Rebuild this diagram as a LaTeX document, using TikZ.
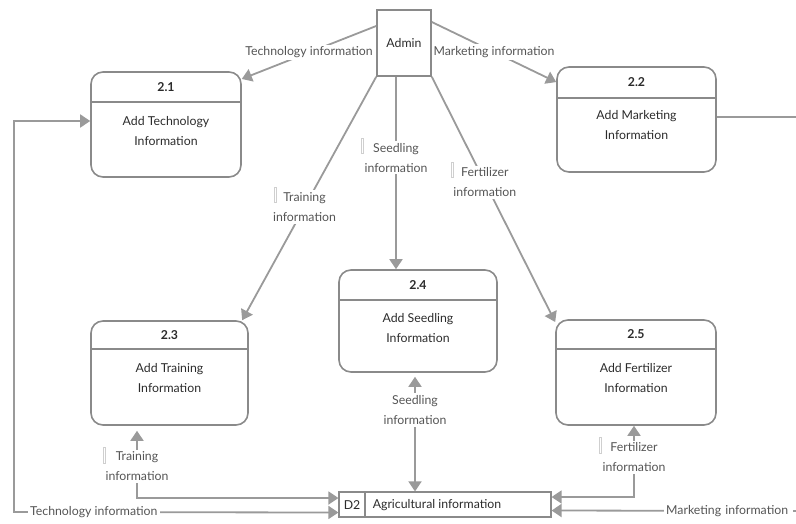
\documentclass[tikz,border=0pt]{standalone}
\usepackage{fontspec}
\setmainfont{Lato}
\usetikzlibrary{arrows.meta}
\definecolor{linec}{HTML}{9A9A9A}
\definecolor{boxc}{HTML}{8A8A8A}
\definecolor{txtc}{HTML}{2B2B2B}
\definecolor{lblc}{HTML}{555555}
\definecolor{barc}{HTML}{CFCFCF}
\begin{document}
\begin{tikzpicture}[x=1pt,y=-1pt,
  font=\fontsize{12.3}{20}\selectfont,
  proc/.style={draw=boxc, line width=1.6pt, rounded corners=12pt, inner sep=0},
  ent/.style={draw=boxc, line width=1.6pt, inner sep=0, minimum width=54pt, minimum height=66pt, text=txtc},
  ptitle/.style={text=txtc, font=\fontsize{12.3}{14}\selectfont\bfseries},
  pbody/.style={text=txtc, align=center},
  lbl/.style={fill=white, text=lblc, align=center, inner sep=2pt},
  flow/.style={draw=linec, line width=1.8pt, -{Triangle[length=10pt,width=13pt]}},
  biflow/.style={draw=linec, line width=1.8pt, {Triangle[length=10pt,width=13pt]}-{Triangle[length=10pt,width=13pt]}},
  plain/.style={draw=linec, line width=1.8pt},
  caret/.style={draw=barc, line width=0.6pt},
  hdr/.style={draw=boxc, line width=1.6pt}
]
\useasboundingbox (0,0) rectangle (796,523);

% entity
\node[ent] (admin) at (404,43) {Admin};

% processes
\node[proc, minimum width=150pt, minimum height=105pt] (p21) at (166,124.5) {};
\draw[hdr] (91,102) -- (241,102);
\node[ptitle] (t21) at (166,87) {2.1};
\node[pbody] (b21) at (166,131) {Add Technology\\Information};

\node[proc, minimum width=159pt, minimum height=105pt] (p22) at (636.5,119.5) {};
\draw[hdr] (557,98) -- (716,98);
\node[ptitle] (t22) at (636.5,82) {2.2};
\node[pbody] (b22) at (636.5,125.5) {Add Marketing\\Information};

\node[proc, minimum width=157pt, minimum height=104pt] (p23) at (169.5,373) {};
\draw[hdr] (91,349) -- (248,349);
\node[ptitle] (t23) at (169.5,335) {2.3};
\node[pbody] (b23) at (169.5,378) {Add Training\\Information};

\node[proc, minimum width=158pt, minimum height=102pt] (p24) at (418,321) {};
\draw[hdr] (339,300) -- (497,300);
\node[ptitle] (t24) at (418,285) {2.4};
\node[pbody] (b24) at (418,328.5) {Add Seedling\\Information};

\node[proc, minimum width=160pt, minimum height=105pt] (p25) at (636,372.5) {};
\draw[hdr] (556,349) -- (716,349);
\node[ptitle] (t25) at (636,334) {2.5};
\node[pbody] (b25) at (636,378.5) {Add Fertilizer\\Information};

% data store
\node[draw=boxc, line width=1.2pt, minimum width=212pt, minimum height=25pt, inner sep=0] (d2) at (445,504.5) {};
\draw[draw=boxc, line width=1.2pt] (365,492) -- (365,517);
\node[text=txtc] (d2id) at (352,505) {D2};
\node[text=txtc] (d2name) at (437,505) {Agricultural information};

% flows from Admin
\draw[flow] ([yshift=17pt]admin.west) -- node[lbl]{Technology information} (p21.31);
\draw[flow] ([yshift=21pt]admin.east) -- node[lbl]{Marketing information} (p22.155);
\draw[flow] (admin.south west) -- node[lbl,pos=0.535]{Training\\information} (p23.36);
\draw[flow] ([xshift=-8pt]admin.south) -- node[lbl,pos=0.42]{Seedling\\information} ([xshift=-8pt]admin.south |- p24.north);
\draw[flow] (admin.south east) -- node[lbl,pos=0.43]{Fertilizer\\information} (p25.148);

% 2.2 outgoing
\coordinate (edge22) at (796,117);
\draw[plain] ([yshift=2.5pt]p22.east) -- (edge22);

% technology loop
\coordinate (tu) at (14,121);
\coordinate (tl) at (14,512);
\draw[biflow] ([yshift=3.5pt]p21.west) -- (tu) -- (tl) -- node[lbl,pos=0.246]{Technology information} ([yshift=-8pt]d2.west);

% training to store
\coordinate (tb) at (137,498);
\draw[biflow] ([xshift=-32.5pt,yshift=-5pt]p23.south) -- node[lbl,pos=0.53]{Training\\information} (tb) -- ([yshift=6.5pt]d2.west);

% seedling to store
\draw[biflow] ([xshift=-3pt,yshift=-4pt]p24.south) -- node[lbl,pos=0.29]{Seedling\\information} ([xshift=-30pt]d2.north);

% fertilizer to store
\coordinate (fb) at (634,497);
\draw[biflow] ([xshift=-2pt]p25.south) -- node[lbl,pos=0.44]{Fertilizer\\information} (fb) -- ([yshift=7.5pt]d2.east);

% marketing to store
\coordinate (mr) at (796,511);
\draw[flow] (mr) -- ([yshift=-6pt]d2.east);
\node[lbl, anchor=west, text width=125pt, align=left] (mklbl) at (664,511) {Marketing information};

% text carets
\draw[caret] (274,187) rectangle (276,202);
\draw[caret] (361,138) rectangle (363,153);
\draw[caret] (451,162) rectangle (453,177);
\draw[caret] (103,447) rectangle (105,463);
\draw[caret] (599,437) rectangle (601,453);
\end{tikzpicture}
\end{document}
